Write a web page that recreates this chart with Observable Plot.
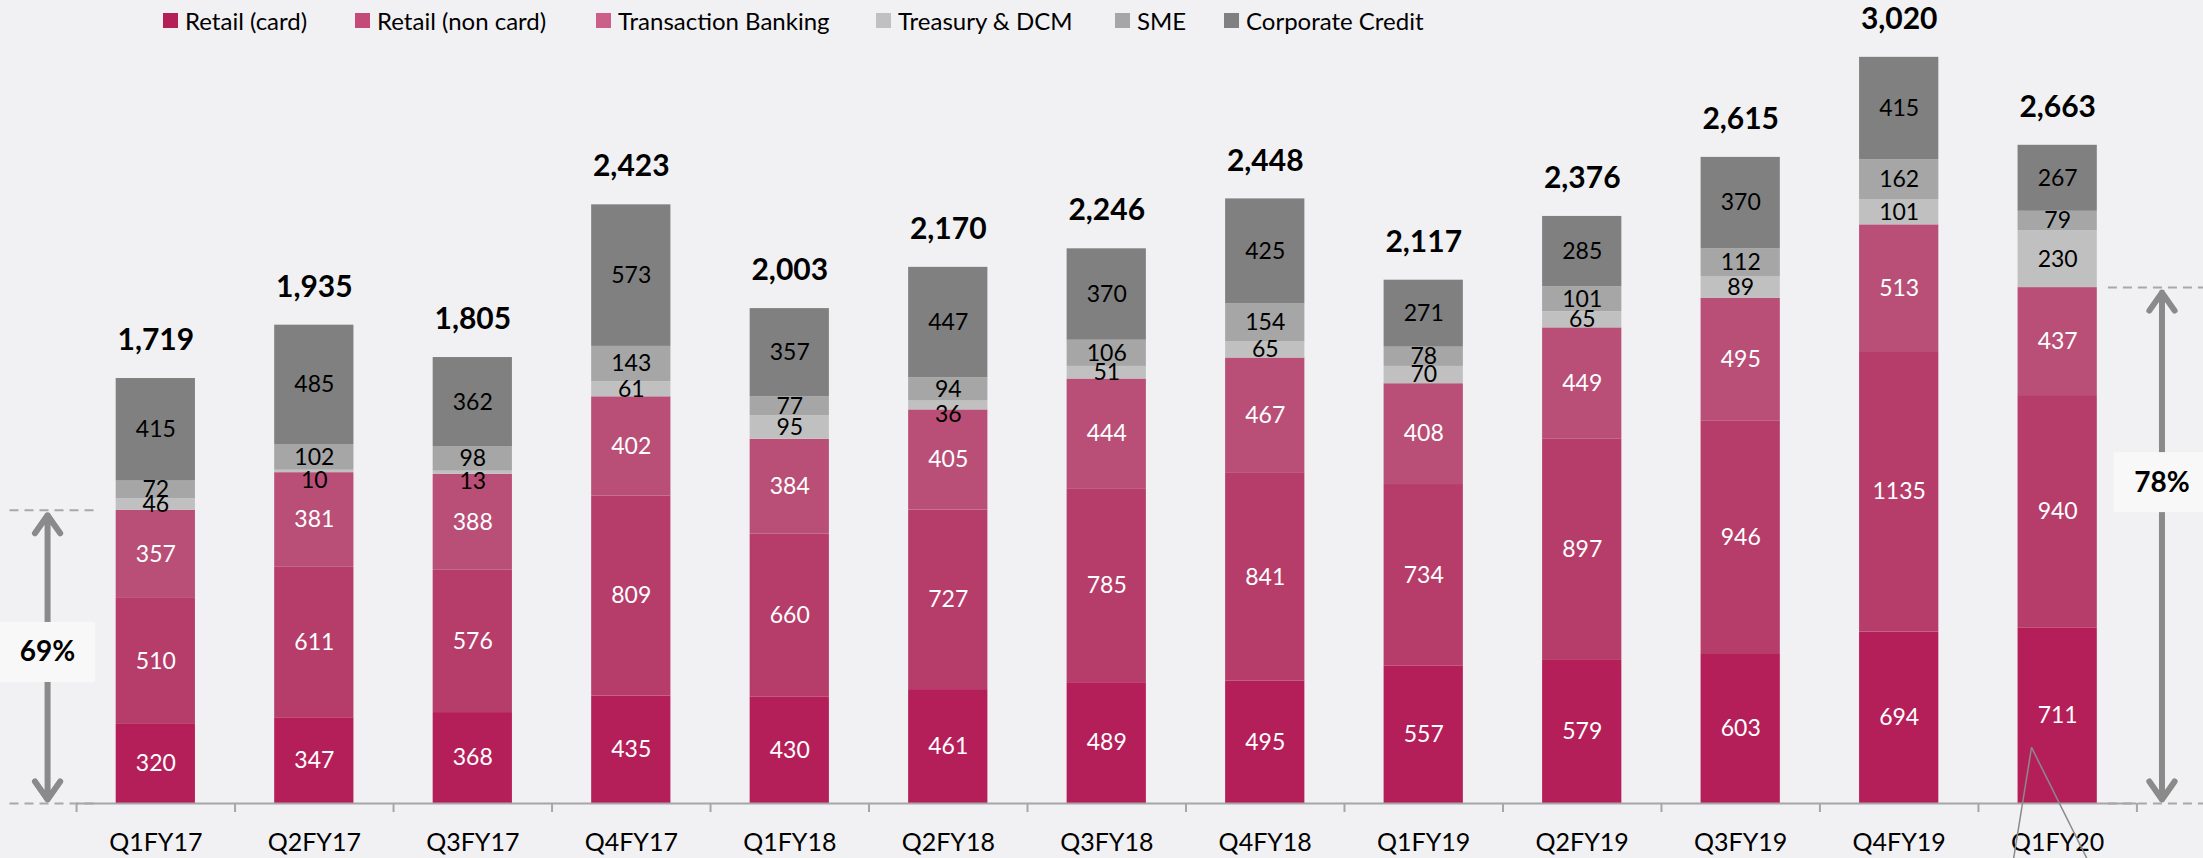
<!DOCTYPE html>
<html>
<head>
<meta charset="utf-8">
<script src="https://cdn.jsdelivr.net/npm/d3@7"></script>
<script src="https://cdn.jsdelivr.net/npm/@observablehq/plot@0.6"></script>
<style>
  html, body { margin: 0; padding: 0; background: #F1F1F3; }
  #wrap { position: relative; width: 2203px; height: 858px; overflow: hidden; background: #F1F1F3; }
  #legend { position: absolute; top: 0; left: 0; width: 2203px; height: 40px; z-index: 2;
            font-family: Lato, "Open Sans", sans-serif;
            font-size: 24px; color: #000; }
  .item { position: absolute; top: 7px; height: 27px; display: flex; align-items: center; white-space: nowrap; }
  .sw { width: 15px; height: 15px; margin-right: 7px; flex: none; }
  #chart { position: absolute; top: 0; left: 0; }
</style>
</head>
<body>
<div id="wrap">
  <div id="legend"></div>
  <div id="chart"></div>
</div>
<script>
// ---------- data ----------
const quarters = ["Q1FY17","Q2FY17","Q3FY17","Q4FY17","Q1FY18","Q2FY18","Q3FY18","Q4FY18","Q1FY19","Q2FY19","Q3FY19","Q4FY19","Q1FY20"];
const seriesNames = ["Retail (card)","Retail (non card)","Transaction Banking","Treasury & DCM","SME","Corporate Credit"];
const retailCard     = [320, 347, 368, 435, 430, 461, 489, 495, 557, 579, 603, 694, 711];
const retailNonCard  = [510, 611, 576, 809, 660, 727, 785, 841, 734, 897, 946, 1135, 940];
const transaction    = [357, 381, 388, 402, 384, 405, 444, 467, 408, 449, 495, 513, 437];
const treasuryDcm    = [46, 10, 13, 61, 95, 36, 51, 65, 70, 65, 89, 101, 230];
const sme            = [72, 102, 98, 143, 77, 94, 106, 154, 78, 101, 112, 162, 79];
const corporate      = [415, 485, 362, 573, 357, 447, 370, 425, 271, 285, 370, 415, 267];
const totals         = [1719, 1935, 1805, 2423, 2003, 2170, 2246, 2448, 2117, 2376, 2615, 3020, 2663];

// ---------- styles ----------
const colors = ["#B51F59", "#B63D6A", "#B94F77", "#C0C0C0", "#A6A6A6", "#808080"];
const legendColors = ["#B41F58", "#C44B77", "#CB5F87", "#C0C0C0", "#A6A6A6", "#808080"];
const labelColors = ["#FFFFFF", "#FFFFFF", "#FFFFFF", "#000000", "#000000", "#000000"];
const legendLeft = [163, 355, 596, 876, 1115, 1224];
const tinyValue = 40; // labels of very thin segments are nudged below them

// retail share annotations (first and last quarter)
const shareNotes = [
  {q: 0, arrowOffset: -0.683, dashFrom: -0.92, dashTo: -0.37, labelAt: 0.515},
  {q: 12, arrowOffset: 0.658, dashFrom: 0.32, dashTo: 0.95, labelAt: 0.622}
];
// callout lines under the last bar
const callout = [
  {x1: 11.835, y1: 227, x2: 11.72, y2: -230},
  {x1: 11.835, y1: 227, x2: 12.19, y2: -230}
];

// ---------- build ----------
const seriesValues = [retailCard, retailNonCard, transaction, treasuryDcm, sme, corporate];
const segments = [];
quarters.forEach((q, i) => {
  let base = 0;
  seriesNames.forEach((s, k) => {
    const v = seriesValues[k][i];
    segments.push({i, quarter: q, series: s, k, value: v, y1: base, y2: base + v});
    base += v;
  });
});
const stackTop = quarters.map((q, i) => d3.sum(seriesValues, a => a[i]));
const totalRows = quarters.map((q, i) => ({i, top: stackTop[i], label: d3.format(",")(totals[i])}));

const notes = shareNotes.map(n => {
  const retail = retailCard[n.q] + retailNonCard[n.q] + transaction[n.q];
  return {...n, x: n.q + n.arrowOffset, retail, mid: retail * n.labelAt,
          pct: Math.round(100 * retail / totals[n.q]) + "%"};
});
const dashRows = notes.flatMap(n => [
  {x1: n.q + n.dashFrom, x2: n.q + n.dashTo, y: n.retail},
  {x1: n.q + n.dashFrom, x2: n.q + n.dashTo, y: 0}
]);

// legend
const legend = document.getElementById("legend");
seriesNames.forEach((s, k) => {
  const it = document.createElement("div");
  it.className = "item";
  it.style.left = legendLeft[k] + "px";
  const sw = document.createElement("span");
  sw.className = "sw";
  sw.style.background = legendColors[k];
  it.appendChild(sw);
  it.appendChild(document.createTextNode(s));
  legend.appendChild(it);
});

const boundaries = d3.range(quarters.length + 1).map(k => k - 0.5);

const chart = Plot.plot({
  width: 2203,
  height: 858,
  marginLeft: 0,
  marginRight: 0,
  marginTop: 0,
  marginBottom: 55,
  x: {type: "linear", domain: [-0.98, 12.92], axis: null},
  y: {domain: [0, 3250], axis: null},
  color: {domain: seriesNames, range: colors},
  style: {background: "transparent", fontFamily: "Lato, 'Open Sans', sans-serif", overflow: "visible"},
  marks: [
    // dashed guides
    Plot.ruleY(dashRows, {x1: "x1", x2: "x2", y: "y", stroke: "#A8A8A8", strokeWidth: 2, strokeDasharray: "9,6"}),
    // bars
    Plot.rect(segments, {
      x1: d => d.i - 0.25, x2: d => d.i + 0.25, y1: "y1", y2: "y2", fill: "series"
    }),
    // segment labels
    Plot.text(segments.filter(d => d.value >= tinyValue), {
      x: "i", y: d => (d.y1 + d.y2) / 2, text: d => String(d.value),
      fill: d => labelColors[d.k], fontSize: 23
    }),
    Plot.text(segments.filter(d => d.value < tinyValue), {
      x: "i", y: d => (d.y1 + d.y2) / 2, text: d => String(d.value), dy: 9,
      fill: d => labelColors[d.k], fontSize: 23
    }),
    // totals
    Plot.text(totalRows, {
      x: "i", y: "top", text: "label", dy: -38, fontSize: 30, fontWeight: "bold", fill: "#000"
    }),
    // axis baseline
    Plot.ruleY([0], {x1: boundaries[0], x2: boundaries[boundaries.length - 1], stroke: "#A6A6A6", strokeWidth: 2}),
    Plot.axisX({ticks: boundaries, tickSize: 9, tickFormat: () => "", stroke: "#A6A6A6", strokeWidth: 2}),
    Plot.axisX({ticks: d3.range(quarters.length), tickFormat: i => quarters[i], tickSize: 0, tickPadding: 30,
                fontSize: 25, fill: "#000"}),
    // arrows
    Plot.arrow(notes, {x1: "x", x2: "x", y1: "mid", y2: "retail", stroke: "#8A8A8A", strokeWidth: 6,
                       headLength: 5.5, headAngle: 70, insetEnd: 5}),
    Plot.arrow(notes, {x1: "x", x2: "x", y1: "mid", y2: () => 0, stroke: "#8A8A8A", strokeWidth: 6,
                       headLength: 5.5, headAngle: 70, insetEnd: 4}),
    // label boxes
    Plot.rect(notes, {x1: "x", x2: "x", y1: "mid", y2: "mid",
                      insetLeft: -48, insetRight: -48, insetTop: -30, insetBottom: -30, fill: "#F8F8F8"}),
    Plot.text(notes, {x: "x", y: "mid", text: "pct", fontSize: 28, fontWeight: "bold", fill: "#000"}),
    // callout lines
    Plot.link(callout, {x1: "x1", y1: "y1", x2: "x2", y2: "y2", stroke: "#8A8A8A", strokeWidth: 1.5})
  ]
});
document.getElementById("chart").appendChild(chart);
</script>
</body>
</html>
